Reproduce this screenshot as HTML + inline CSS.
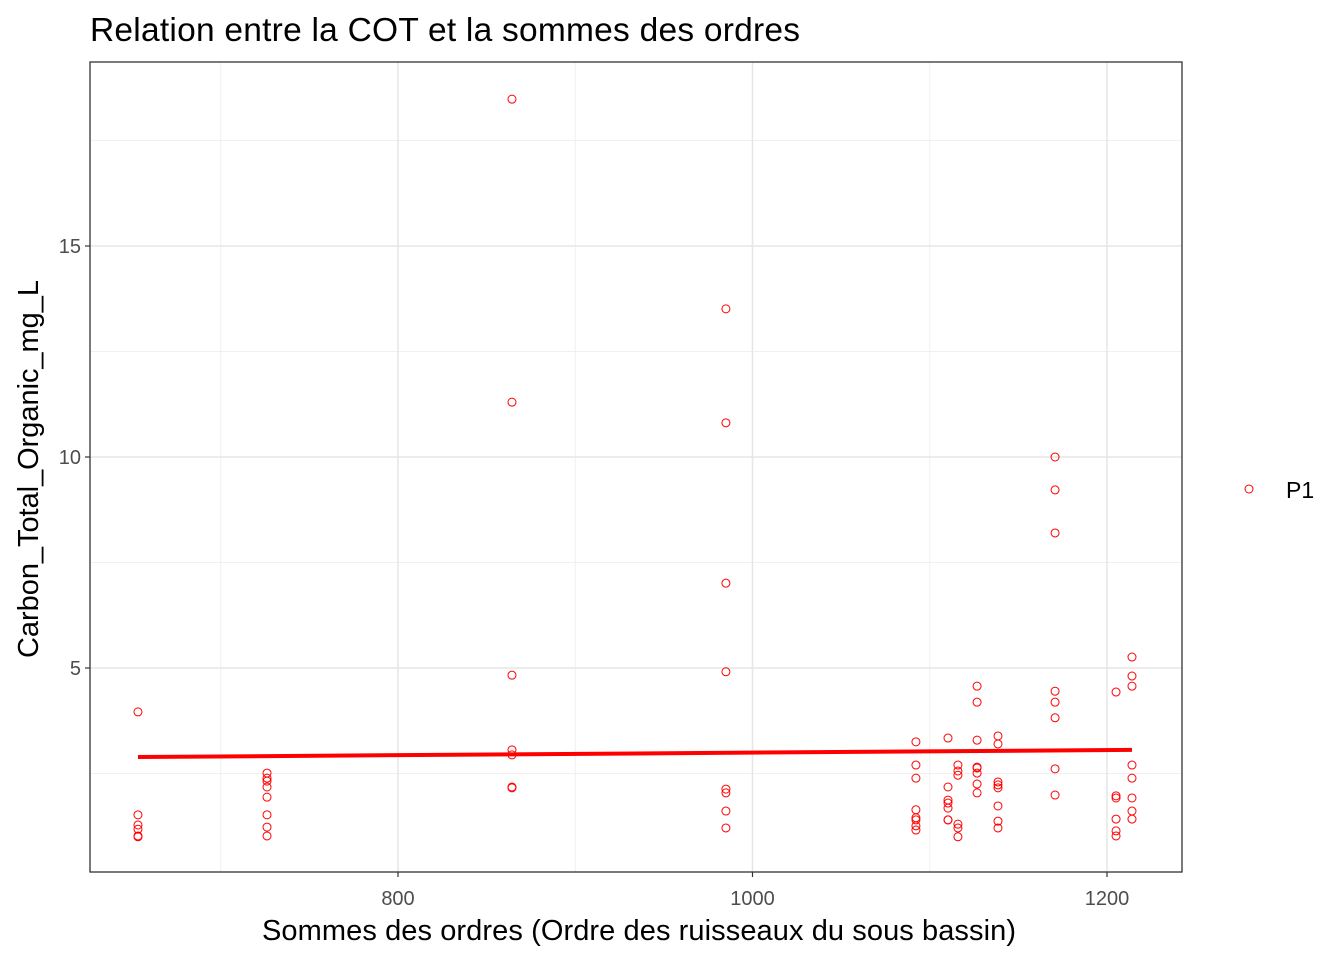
<!DOCTYPE html>
<html><head><meta charset="utf-8"><style>
body{margin:0;background:#fff;font-family:"Liberation Sans",Arial,sans-serif;}
</style></head><body>
<svg id="chart" width="1344" height="960" xmlns="http://www.w3.org/2000/svg">
<text x="90" y="41" font-size="33.5px" fill="#000" textLength="710">Relation entre la COT et la sommes des ordres</text>
<g id="grid"></g>
<g id="pts"></g>
<rect x="90" y="62" width="1092" height="810" fill="none" stroke="#333" stroke-width="1.3"/>
<g id="axes"></g>
<text x="639" y="940" font-size="29px" text-anchor="middle" fill="#000" textLength="754">Sommes des ordres (Ordre des ruisseaux du sous bassin)</text>
<text transform="translate(38,469) rotate(-90)" font-size="29px" text-anchor="middle" fill="#000" textLength="378">Carbon_Total_Organic_mg_L</text>
<g>
<circle cx="1249" cy="489" r="4" fill="none" stroke="#f00"/>
<text x="1286" y="498" font-size="23px" fill="#000">P1</text>
</g>
</svg>
<script>
const xCols = [653.3,726.1,864.3,985,1092.2,1110.3,1115.9,1126.7,1138.5,1170.7,1205.1,1214.1];
const yVals = [
 [3.96,1.52,1.28,1.18,1.02,1.0],
 [2.51,2.39,2.32,2.18,1.94,1.52,1.23,1.02],
 [18.48,11.30,4.83,3.06,2.94,2.18,2.16],
 [13.51,10.81,7.01,4.91,2.13,2.04,1.61,1.21],
 [3.25,2.70,2.39,1.64,1.45,1.40,1.26,1.16],
 [3.34,2.18,1.87,1.80,1.68,1.40,1.40],
 [2.70,2.56,2.46,1.30,1.21,1.0],
 [4.57,4.19,3.29,2.65,2.63,2.51,2.25,2.04],
 [3.39,3.20,2.30,2.23,2.16,1.73,1.37,1.21],
 [10,9.22,8.2,4.45,4.19,3.82,2.61,1.99],
 [4.43,1.97,1.92,1.42,1.14,1.02],
 [5.26,4.81,4.57,2.70,2.39,1.92,1.61,1.42]
];
const fitCoef = [2.692, 0.000303];
const xTicks = [800,1000,1200];
const xMinor = [700,900,1100];
const yTicks = [5,10,15];
const yMinor = [2.5,7.5,12.5,17.5];
const NS="http://www.w3.org/2000/svg";
const X=v=>398+(v-800)*1.7725;
const Y=v=>879-v*42.2;
function mk(tag,attrs,parent){const e=document.createElementNS(NS,tag);for(const k in attrs)e.setAttribute(k,attrs[k]);document.getElementById(parent).appendChild(e);return e;}
xMinor.forEach(v=>{const e=mk('line',{x1:X(v),x2:X(v),y1:62,y2:872,stroke:'#f0f0f0','stroke-width':1},'grid');

});
yMinor.forEach(v=>{const e=mk('line',{x1:90,x2:1182,y1:Y(v),y2:Y(v),stroke:'#f0f0f0','stroke-width':1},'grid');

});
xTicks.forEach(v=>{const e=mk('line',{x1:X(v),x2:X(v),y1:62,y2:872,stroke:'#e6e6e6','stroke-width':1.5},'grid');


const t=mk('line',{x1:X(v),x2:X(v),y1:872,y2:877,stroke:'#333','stroke-width':1.2},'axes');


const l=mk('text',{x:X(v),y:905,'font-size':'20px','text-anchor':'middle',fill:'#4d4d4d'},'axes');l.textContent=v;

});
yTicks.forEach(v=>{const e=mk('line',{x1:90,x2:1182,y1:Y(v),y2:Y(v),stroke:'#e6e6e6','stroke-width':1.5},'grid');


const t=mk('line',{x1:85,x2:90,y1:Y(v),y2:Y(v),stroke:'#333','stroke-width':1.2},'axes');


const l=mk('text',{x:81,y:Y(v)+7,'font-size':'20px','text-anchor':'end',fill:'#4d4d4d'},'axes');l.textContent=v;

});
xCols.forEach((x,i)=>yVals[i].forEach(y=>{
const c=mk('circle',{cx:X(x),cy:Y(y),r:4,fill:'none',stroke:'#f00','stroke-width':1},'pts');

}));
const x0=Math.min(...xCols), x1=Math.max(...xCols);
const ln=mk('line',{x1:X(x0),y1:Y(fitCoef[0]+fitCoef[1]*x0),x2:X(x1),y2:Y(fitCoef[0]+fitCoef[1]*x1),stroke:'#f00','stroke-width':4},'pts');


</script>
</body></html>
